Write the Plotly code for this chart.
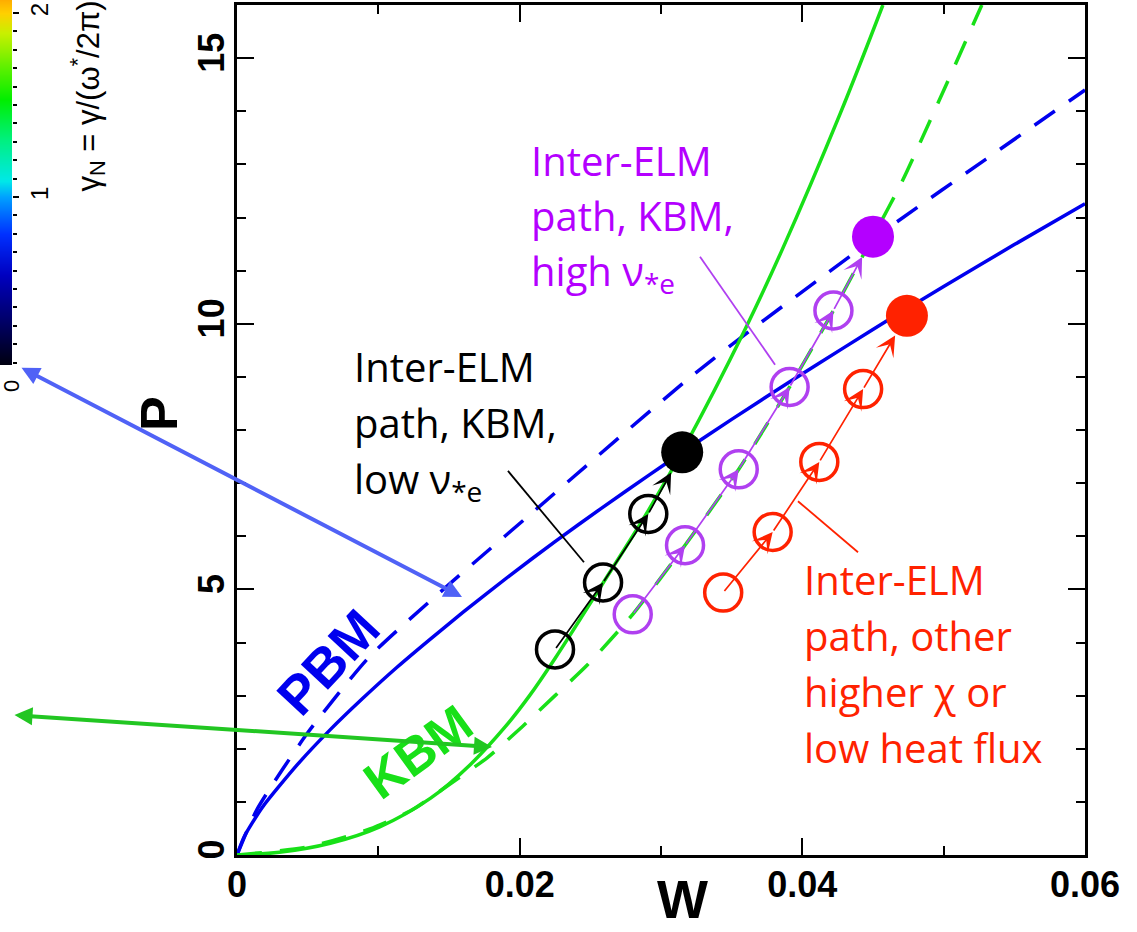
import plotly.graph_objects as go

# ---------------- figure geometry (pixels) ----------------
FIG_W, FIG_H = 1137, 932
PLOT_L, PLOT_R = 237, 1085
PLOT_B, PLOT_T = 855, 5


def px(xp):
    return xp / FIG_W


def py(yp):
    return 1 - yp / FIG_H


# ---------------- data ----------------
x_range = [0, 0.06]
y_range = [0, 16]

# PBM boundary, solid
pbm_solid_w = [0, 0.0005, 0.0018, 0.0043, 0.0066, 0.0089, 0.0113, 0.0137, 0.016, 0.0193,
               0.0225, 0.0258, 0.0292, 0.0315, 0.035, 0.039, 0.043, 0.0465, 0.05, 0.055, 0.06]
pbm_solid_p = [0, 0.34, 0.90, 1.71, 2.36, 2.95, 3.53, 4.07, 4.57, 5.26,
               5.90, 6.53, 7.16, 7.58, 8.20, 8.89, 9.56, 10.14, 10.70, 11.49, 12.26]
# PBM boundary, dashed
pbm_dash_w = [0, 0.0014, 0.005, 0.0094, 0.0146, 0.0172, 0.0207, 0.027, 0.0321, 0.0362,
              0.0415, 0.0467, 0.053, 0.06]
pbm_dash_p = [0, 0.85, 2.3, 3.74, 5.0, 5.6, 6.4, 7.85, 9.0, 9.85,
              10.9, 11.92, 13.1, 14.4]
# KBM boundary, solid
kbm_solid_w = [0, 0.003, 0.0066, 0.0101, 0.0137, 0.0165, 0.019, 0.0207, 0.0225, 0.0259,
               0.0291, 0.0315, 0.0359, 0.0386, 0.0427, 0.0457]
kbm_solid_p = [0, 0.05, 0.22, 0.53, 1.07, 1.70, 2.42, 3.0, 3.70, 5.12,
               6.48, 7.6, 9.87, 11.41, 13.97, 16.0]
# KBM boundary, dashed
kbm_dash_w = [0, 0.005, 0.0094, 0.0124, 0.0152, 0.0177, 0.0202, 0.0225, 0.0248, 0.028,
              0.0317, 0.0355, 0.0391, 0.0422, 0.045, 0.0471, 0.0527]
kbm_dash_p = [0, 0.15, 0.49, 0.85, 1.36, 1.83, 2.42, 3.0, 3.58, 4.53,
              5.83, 7.26, 8.81, 10.25, 11.64, 12.7, 16.0]

# inter-ELM paths
black_w = [0.0225, 0.0259, 0.0291, 0.0315]
black_p = [3.87, 5.13, 6.42, 7.58]
purple_w = [0.028, 0.0317, 0.0355, 0.0391, 0.0422, 0.045]
purple_p = [4.53, 5.83, 7.26, 8.81, 10.25, 11.64]
red_w = [0.0344, 0.0379, 0.0412, 0.0443, 0.0474]
red_p = [4.94, 6.08, 7.40, 8.77, 10.15]

# leader lines (data units)
black_leader_w = [0.01917, 0.02455]
black_leader_p = [7.23, 5.51]
purple_leader_w = [0.03276, 0.03807]
purple_leader_p = [11.26, 9.23]
red_leader_w = [0.03969, 0.04394]
red_leader_p = [6.66, 5.70]

# text labels
black_lines = ["Inter-ELM", "path, KBM,", "low ν<sub>*e</sub>"]
purple_lines = ["Inter-ELM", "path, KBM,", "high ν<sub>*e</sub>"]
red_lines = ["Inter-ELM", "path, other", "higher χ or", "low heat flux"]

# colour bar (gamma_N) ramp
cb_levels = [0.0, 0.1, 0.2, 0.3, 0.4, 0.5, 0.6, 0.7, 0.8, 0.9, 1.0,
             1.1, 1.2, 1.3, 1.4, 1.5, 1.6, 1.7, 1.8, 1.9, 2.0, 2.1]
cb_stop_vals = [0.0, 0.08, 0.35, 0.58, 0.8, 1.0, 1.09, 1.31, 1.53, 1.71, 1.89, 2.0, 2.1]
cb_stop_cols = ["#000000", "#00000c", "#000070", "#0000c0", "#0030ff", "#00a0ff", "#00e8e8",
                "#00f080", "#00ee00", "#60f000", "#c8f000", "#ffd000", "#ffa000"]
cb_range = [0.087, 2.071]

# ---------------- colours ----------------
BLUE = "#0000ee"
GREEN = "#18e018"
PURPLE = "#b400ff"
PURPLE_C = "#b040f0"
RED = "#ff2200"
LABEL_FONT = "Open Sans"
AX_FONT = "Liberation Sans"

fig = go.Figure()

# curves
fig.add_trace(go.Scatter(x=pbm_solid_w, y=pbm_solid_p, mode="lines",
                         line=dict(color=BLUE, width=3.5, shape="spline", smoothing=0.6)))
fig.add_trace(go.Scatter(x=pbm_dash_w, y=pbm_dash_p, mode="lines",
                         line=dict(color=BLUE, width=3.5, dash="25px,17px", shape="spline", smoothing=0.6)))
fig.add_trace(go.Scatter(x=kbm_solid_w, y=kbm_solid_p, mode="lines",
                         line=dict(color=GREEN, width=3.5, shape="spline", smoothing=1.0)))
fig.add_trace(go.Scatter(x=kbm_dash_w, y=kbm_dash_p, mode="lines",
                         line=dict(color=GREEN, width=3.5, dash="25px,18px", shape="spline", smoothing=0.6)))

# leader lines
for lw, lp, col in [(black_leader_w, black_leader_p, "black"),
                    (purple_leader_w, purple_leader_p, PURPLE_C),
                    (red_leader_w, red_leader_p, RED)]:
    fig.add_trace(go.Scatter(x=lw, y=lp, mode="lines", line=dict(color=col, width=1.8)))

# path markers
for pw, pp, col_open, col_fill in [(black_w, black_p, "black", "black"),
                                   (purple_w, purple_p, PURPLE_C, PURPLE),
                                   (red_w, red_p, RED, RED)]:
    fig.add_trace(go.Scatter(x=pw[:-1], y=pp[:-1], mode="markers",
                             marker=dict(symbol="circle-open", size=37, color=col_open,
                                         line=dict(color=col_open, width=3.5))))
    fig.add_trace(go.Scatter(x=pw[-1:], y=pp[-1:], mode="markers",
                             marker=dict(symbol="circle", size=42, color=col_fill,
                                         line=dict(width=0))))

# colour bar as heatmap on its own small axes
fig.add_trace(go.Heatmap(x=[0, 1], y=cb_levels, z=[[v, v] for v in cb_levels],
                         zmin=cb_stop_vals[0], zmax=cb_stop_vals[-1],
                         colorscale=[[v / cb_stop_vals[-1], c] for v, c in zip(cb_stop_vals, cb_stop_cols)],
                         zsmooth="best", showscale=False, xaxis="x2", yaxis="y2",
                         hoverinfo="skip"))

annotations = []

# arrows along the paths
for pw, pp, col in [(black_w, black_p, "black"), (purple_w, purple_p, PURPLE_C), (red_w, red_p, RED)]:
    n = len(pw)
    for i in range(1, n):
        annotations.append(dict(
            x=pw[i], y=pp[i], ax=pw[i - 1], ay=pp[i - 1],
            xref="x", yref="y", axref="x", ayref="y", text="",
            showarrow=True, arrowhead=3, arrowsize=2.0, arrowwidth=1.7, arrowcolor=col,
            standoff=23 if i == n - 1 else 0))


# multi-line labels
def add_lines(lines, left_px, top_px, step, color):
    for k, t in enumerate(lines):
        annotations.append(dict(
            x=px(left_px), y=py(top_px + k * step), xref="paper", yref="paper",
            text=t, showarrow=False, xanchor="left", yanchor="top",
            font=dict(family=LABEL_FONT, size=40, color=color)))


add_lines(black_lines, 352, 337, 56, "black")
add_lines(purple_lines, 529, 131, 55, PURPLE)
add_lines(red_lines, 802, 550, 56, RED)


def centred(x_px, y_px, text, size, color, angle=0, family=AX_FONT, weight="bold"):
    annotations.append(dict(x=px(x_px), y=py(y_px), xref="paper", yref="paper", text=text,
                            textangle=angle, showarrow=False, xanchor="center", yanchor="middle",
                            font=dict(family=family, size=size, color=color, weight=weight)))


# PBM / KBM labels
centred(328, 662, "PBM", 54, BLUE, angle=-47)
centred(418, 752, "KBM", 52, GREEN, angle=-36)

# axis titles
centred(682, 899, "W", 54, "black")
centred(159, 414, "P", 52, "black", angle=-90)

# colour bar zero label
centred(11, 386, "0", 22, "black", angle=-90, weight="normal")

# colour bar title
annotations.append(dict(x=px(88), y=py(194), xref="paper", yref="paper",
                        text="γ<sub>N</sub> = γ/(ω<sup>*</sup>/2π)", textangle=-90,
                        showarrow=False, xanchor="center", yanchor="bottom",
                        font=dict(family=AX_FONT, size=31, color="black")))

# double arrows linking to the colour bar
annotations.append(dict(x=px(462), y=py(597), xref="paper", yref="paper",
                        ax=20 - 462, ay=367 - 597, axref="pixel", ayref="pixel", text="",
                        showarrow=True, arrowhead=2, startarrowhead=2, arrowside="end+start",
                        arrowsize=0.9, startarrowsize=0.9, arrowwidth=4, arrowcolor="#5062f6"))
annotations.append(dict(x=px(492), y=py(747), xref="paper", yref="paper",
                        ax=13 - 492, ay=715 - 747, axref="pixel", ayref="pixel", text="",
                        showarrow=True, arrowhead=2, startarrowhead=2, arrowside="end+start",
                        arrowsize=0.9, startarrowsize=0.9, arrowwidth=4, arrowcolor="#22c622"))

axis_common = dict(showline=True, linecolor="black", linewidth=2.5, mirror="ticks",
                   ticks="inside", ticklen=17, tickwidth=2.2, tickcolor="black",
                   showgrid=False, zeroline=False, automargin=False,
                   tickfont=dict(family=AX_FONT, size=36, color="black", weight="bold"))

fig.update_layout(
    width=FIG_W, height=FIG_H,
    margin=dict(l=0, r=0, t=0, b=0, autoexpand=False),
    paper_bgcolor="white", plot_bgcolor="white",
    showlegend=False,
    xaxis=dict(domain=[px(PLOT_L), px(PLOT_R)], range=x_range, tick0=0, dtick=0.02,
               minor=dict(dtick=0.01, ticklen=9, ticks="inside", tickwidth=2.2, tickcolor="black"),
               ticklabelstandoff=-4, **axis_common),
    yaxis=dict(domain=[py(PLOT_B), py(PLOT_T)], range=y_range, tick0=0, dtick=5,
               minor=dict(dtick=1, ticklen=9, ticks="inside", tickwidth=2.2, tickcolor="black"),
               tickangle=-90, ticklabelstandoff=-4, **axis_common),
    xaxis2=dict(domain=[0, px(12)], range=[-0.5, 1.5], visible=False, anchor="y2", automargin=False),
    yaxis2=dict(domain=[py(365), 1], range=cb_range, anchor="x2", side="right",
                tick0=0, dtick=1, ticks="outside", ticklen=6, tickwidth=1.5, tickcolor="black",
                minor=dict(dtick=0.1, ticklen=4, ticks="outside", tickwidth=1.5, tickcolor="black"),
                tickangle=-90, showgrid=False, zeroline=False, showline=False, automargin=False,
                tickfont=dict(family=AX_FONT, size=24, color="black")),
    annotations=annotations,
)

fig.write_html("out.html")
